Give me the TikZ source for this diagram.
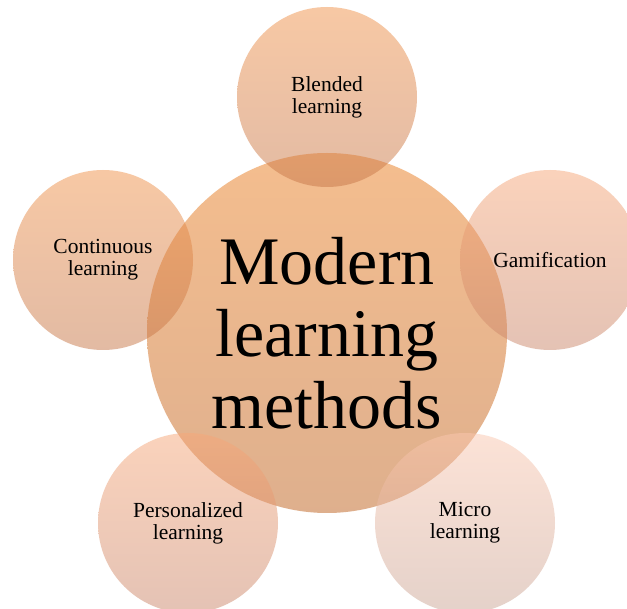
\documentclass[tikz,border=0pt]{standalone}
\usepackage{fontspec}
\setmainfont{Liberation Serif}
\usetikzlibrary{positioning}
\definecolor{hubtop}{RGB}{235,125,31}
\definecolor{hubbot}{RGB}{191,97,29}
\definecolor{darktop}{RGB}{241,147,75}
\definecolor{darkbot}{RGB}{199,119,73}
\definecolor{midtop}{RGB}{247,167,121}
\definecolor{midbot}{RGB}{203,135,107}
\definecolor{palETop}{RGB}{251,199,175}
\definecolor{paleBot}{RGB}{203,165,149}
\tikzset{
  bubble/.style={circle,minimum size=180pt,inner sep=0pt,fill opacity=0.5,text opacity=1,
    align=center,font=\fontsize{21.5}{22}\selectfont},
  hub/.style={bubble,minimum size=360pt,font=\fontsize{68}{72}\selectfont,
    top color=hubtop,bottom color=hubbot}
}

\begin{document}
\begin{tikzpicture}[x=1pt,y=-1pt]
\useasboundingbox[fill=white] (0,0) rectangle (627,609);
\node[hub] (modern) at (327,333) {Modern\\learning\\methods};
\node[bubble,top color=darktop,bottom color=darkbot] (blended) at (327,97) {Blended\\learning};
\node[bubble,top color=midtop,bottom color=midbot] (gamification) at (550,260) {Gamification};
\node[bubble,top color=palETop,bottom color=paleBot] (micro) at (465,523) {Micro\\learning};
\node[bubble,top color=midtop,bottom color=midbot] (personalized) at (188,523) {Personalized\\learning};
\node[bubble,top color=darktop,bottom color=darkbot] (continuous) at (103,260) {Continuous\\learning};
\end{tikzpicture}
\end{document}
